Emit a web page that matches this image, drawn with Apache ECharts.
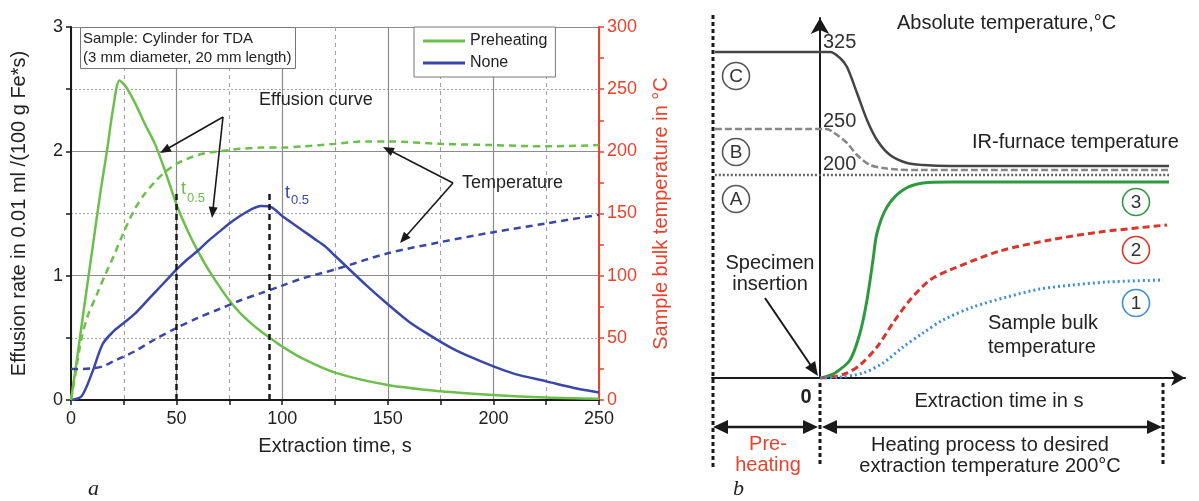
<!DOCTYPE html>
<html>
<head>
<meta charset="utf-8">
<title>Effusion rate and sample temperature</title>
<script src="https://cdn.jsdelivr.net/npm/echarts@6/dist/echarts.min.js"></script>
<style>
  html, body { margin: 0; padding: 0; background: #fff; }
  #chart { width: 1199px; height: 501px; }
</style>
</head>
<body>
<div id="chart"></div>
<script>
// ---- (a) measured curves, time in s ----
// effusion rate, 0.01 ml/(100 g Fe*s)
const preEffT = [0, 3, 6, 10, 14, 17, 20, 23, 26, 30, 35, 40, 45, 50, 55, 60, 65, 70, 75, 80, 85, 90, 95, 100, 110, 125, 150, 175, 200, 225, 250]
const preEff = [0, 0.35, 0.72, 1.2, 1.68, 2.0, 2.35, 2.57, 2.52, 2.4, 2.22, 2.05, 1.82, 1.57, 1.37, 1.2, 1.05, 0.92, 0.8, 0.7, 0.62, 0.55, 0.49, 0.43, 0.33, 0.22, 0.12, 0.07, 0.04, 0.02, 0.01]
const noneEffT = [0, 5, 10, 15, 20, 25, 30, 35, 40, 45, 50, 55, 60, 65, 70, 75, 80, 85, 90, 95, 100, 105, 110, 115, 120, 125, 130, 140, 150, 160, 170, 180, 190, 200, 210, 225, 240, 250]
const noneEff = [0, 0.03, 0.22, 0.45, 0.55, 0.62, 0.69, 0.78, 0.87, 0.96, 1.05, 1.13, 1.2, 1.28, 1.35, 1.42, 1.48, 1.53, 1.56, 1.55, 1.48, 1.42, 1.36, 1.3, 1.24, 1.16, 1.08, 0.92, 0.77, 0.63, 0.52, 0.42, 0.34, 0.27, 0.21, 0.15, 0.09, 0.06]
// sample bulk temperature, °C
const preTempT = [0, 2, 5, 8, 12, 16, 20, 25, 30, 35, 40, 45, 50, 55, 60, 65, 70, 75, 80, 90, 100, 110, 125, 140, 150, 175, 200, 225, 250]
const preTemp = [0, 20, 50, 68, 84, 100, 115, 135, 153, 166, 176, 184, 190, 194, 197, 199, 200, 201, 202, 203, 203, 204, 206, 208, 208, 206, 205, 204, 205]
const noneTempT = [0, 5, 10, 15, 20, 25, 30, 40, 50, 60, 70, 80, 90, 100, 110, 125, 150, 175, 200, 225, 250]
const noneTemp = [25, 25, 25.5, 27, 31, 35, 39, 49, 58, 66, 73, 80, 86, 92, 98, 105, 118, 127, 135, 142, 149]
const halfTimes = [50, 94]
const halfTop = 1.69

// ---- (b) schematic, time offset from insertion / temperature ----
const furnaceCX = [-105, 10, 20, 27, 37, 47, 57, 70, 87, 103, 130, 349]
const furnaceC = [326, 326, 320, 311, 285, 258, 238, 223, 215, 213, 212, 212]
const furnaceBX = [-105, 6, 13, 27, 37, 50, 63, 77, 100, 349]
const furnaceB = [249, 249, 246, 235, 223, 213, 210, 208.5, 208, 208]
const furnaceAX = [-105, 349]
const furnaceA = [203, 203]
const bulk3X = [0, 5, 15, 30, 40, 47, 53, 57, 67, 83, 103, 130, 349]
const bulk3 = [0, 1, 5, 18, 45, 78, 118, 145, 171, 188, 195, 196, 196]
const bulk2X = [0, 10, 27, 40, 57, 73, 90, 110, 130, 180, 230, 280, 347]
const bulk2 = [0, 0.5, 5, 13, 31, 55, 78, 98, 108, 127, 138, 146, 153]
const bulk1X = [0, 17, 43, 63, 83, 103, 123, 153, 187, 220, 253, 287, 343]
const bulk1 = [0, 0.5, 5, 15, 31, 45, 58, 71, 81, 89, 93, 96, 98]

const FONT = 'Arial, "Liberation Sans", Helvetica, sans-serif'
const SERIF = '"Liberation Serif", "Times New Roman", serif'
const INK = '#1a1a1a'
const GREEN = '#6dbf4b'
const BLUE = '#3a47a8'
const RED = '#e8432e'

const zip = (xs, ys) => xs.map((x, i) => [x, ys[i]])

// annotation helpers (graphic)
function label(text, x, y, size, opt) {
    const o = Object.assign({ align: 'left', color: '#222', weight: 'normal', style: 'normal', family: FONT }, opt || {})
    return {
        type: 'text', silent: true, z: 100,
        style: {
            text, x, y,
            font: o.style + ' ' + o.weight + ' ' + size + 'px ' + o.family,
            fill: o.color, textAlign: o.align, textVerticalAlign: 'middle'
        }
    }
}
function head(xa, ya, xb, yb, len, half, color) {
    const a = Math.atan2(yb - ya, xb - xa)
    const bx = xb - len * Math.cos(a)
    const by = yb - len * Math.sin(a)
    const nx = -Math.sin(a) * half
    const ny = Math.cos(a) * half
    return {
        type: 'polygon', silent: true, z: 100,
        shape: { points: [[xb, yb], [bx + nx, by + ny], [bx - nx, by - ny]] },
        style: { fill: color }
    }
}
function arrow(x1, y1, x2, y2, opt) {
    const o = Object.assign({ len: 11, half: 4.5, width: 1.6, color: INK, both: false }, opt || {})
    const a = Math.atan2(y2 - y1, x2 - x1)
    const ex = x2 - (o.len - 1) * Math.cos(a)
    const ey = y2 - (o.len - 1) * Math.sin(a)
    let sx = x1
    let sy = y1
    const out = []
    if (o.both) {
        sx = x1 + (o.len - 1) * Math.cos(a)
        sy = y1 + (o.len - 1) * Math.sin(a)
        out.push(head(x2, y2, x1, y1, o.len, o.half, o.color))
    }
    out.push({ type: 'line', silent: true, z: 100, shape: { x1: sx, y1: sy, x2: ex, y2: ey }, style: { stroke: o.color, lineWidth: o.width } })
    out.push(head(x1, y1, x2, y2, o.len, o.half, o.color))
    return out
}
function vdash(x, y1, y2) {
    return { type: 'line', silent: true, z: 100, shape: { x1: x, y1, x2: x, y2 }, style: { stroke: INK, lineWidth: 3, lineDash: [4, 3] } }
}
function badge(text, cx, cy, color, textColor) {
    return [
        { type: 'circle', silent: true, z: 100, shape: { cx, cy, r: 13.5 }, style: { fill: '#fff', stroke: color, lineWidth: 1.6 } },
        label(text, cx, cy + 1, 19, { align: 'center', color: textColor || '#333' })
    ]
}

const graphic = [
    // panel a
    label('Effusion curve', 259, 100, 18),
    ...arrow(223, 117, 160, 153),
    ...arrow(223, 117, 212, 218),
    label('Temperature', 462, 183, 18),
    ...arrow(453, 183, 383, 147),
    ...arrow(453, 183, 400, 243),
    label('t', 181, 189, 18, { color: GREEN }),
    label('0.5', 187, 198, 13, { color: GREEN }),
    label('t', 285, 193, 18, { color: BLUE }),
    label('0.5', 291, 200, 13, { color: BLUE }),
    label('a', 88, 489, 22, { style: 'italic', family: SERIF }),
    // panel b
    vdash(713, 15, 467),
    vdash(820, 383, 465),
    vdash(1163, 383, 465),
    label('Absolute temperature,°C', 897, 23, 20),
    label('325', 823, 42, 20, { color: '#333' }),
    label('250', 823, 121, 20, { color: '#333' }),
    label('200', 823, 164, 20, { color: '#333' }),
    label('IR-furnace temperature', 972, 142, 20),
    ...badge('C', 736, 76, '#555'),
    ...badge('B', 736, 152, '#555'),
    ...badge('A', 736, 199, '#555'),
    ...badge('3', 1136, 202, '#2e9a40'),
    ...badge('2', 1136, 250, '#d9362b'),
    ...badge('1', 1136, 303, '#3c8fd8'),
    label('Sample bulk', 988, 323, 20),
    label('temperature', 988, 347, 20),
    label('Specimen', 770, 263, 20, { align: 'center' }),
    label('insertion', 770, 284, 20, { align: 'center' }),
    ...arrow(765, 298, 818, 376, { len: 14, half: 6, width: 2 }),
    label('0', 806, 397, 20, { align: 'center', weight: 'bold' }),
    label('Extraction time in s', 999, 401, 20, { align: 'center' }),
    ...arrow(713, 427, 818, 427, { len: 15, half: 7, width: 2.5, both: true }),
    ...arrow(822, 427, 1162, 427, { len: 15, half: 7, width: 2.5, both: true }),
    label('Pre-', 768, 444, 20, { align: 'center', color: RED }),
    label('heating', 768, 465, 20, { align: 'center', color: RED }),
    label('Heating process to desired', 990, 445, 20, { align: 'center' }),
    label('extraction temperature 200°C', 990, 466, 20, { align: 'center' }),
    label('b', 733, 489, 22, { style: 'italic', family: SERIF })
]

function curve(name, data, color, type, yAxisIndex, extra) {
    return Object.assign({
        name, type: 'line', data, xAxisIndex: yAxisIndex > 1 ? 1 : 0, yAxisIndex,
        symbol: 'none', smooth: 0.3, silent: true,
        lineStyle: { color, width: 2.5, type },
        itemStyle: { color }
    }, extra || {})
}

const option = {
    animation: false,
    backgroundColor: '#fff',
    textStyle: { fontFamily: FONT },
    title: {
        text: 'Sample: Cylinder for TDA\n(3 mm diameter, 20 mm length)',
        left: 80, top: 27, padding: [2, 4, 2, 3],
        borderColor: '#777', borderWidth: 1, backgroundColor: '#fff',
        textStyle: { fontSize: 15, fontWeight: 'normal', color: '#222', lineHeight: 19, fontFamily: FONT }
    },
    legend: {
        data: ['Preheating', 'None'], left: 414, top: 27, orient: 'vertical',
        icon: 'rect', itemWidth: 42, itemHeight: 3, itemGap: 6, padding: [6, 8, 6, 9],
        borderColor: '#777', borderWidth: 1, backgroundColor: '#fff', selectedMode: false,
        textStyle: { fontSize: 16, color: '#222', fontFamily: FONT }
    },
    grid: [
        { left: 71, top: 27, width: 528, height: 373, outerBoundsMode: 'none' },
        { left: 712, top: 18, width: 473, height: 360, outerBoundsMode: 'none' }
    ],
    xAxis: [{
        gridIndex: 0, type: 'value', min: 0, max: 250, interval: 50,
        name: 'Extraction time, s', nameLocation: 'middle', nameGap: 36, nameMoveOverlap: false,
        nameTextStyle: { fontSize: 20, color: '#222', fontFamily: FONT },
        axisLine: { onZero: false, lineStyle: { color: INK, width: 2 } },
        axisTick: { show: true, length: 5, lineStyle: { color: INK, width: 1.5 } },
        minorTick: { show: true, splitNumber: 2, length: 5, lineStyle: { color: INK, width: 1.5 } },
        axisLabel: { color: '#222', fontSize: 18, margin: 10, showMinLabel: true, showMaxLabel: true, fontFamily: FONT },
        splitLine: { show: true, lineStyle: { color: '#8c8c8c', width: 1.2 } },
        minorSplitLine: { show: true, lineStyle: { color: '#a0a0a0', width: 1, type: [4, 4] } }
    }, {
        gridIndex: 1, type: 'value', min: -108, max: 365,
        axisLine: { show: true, onZero: false, symbol: ['none', 'arrow'], symbolSize: [12, 14], lineStyle: { color: INK, width: 2 } },
        axisTick: { show: false }, axisLabel: { show: false }, splitLine: { show: false }
    }],
    yAxis: [{
        gridIndex: 0, type: 'value', min: 0, max: 3, interval: 1, position: 'left',
        name: 'Effusion rate in 0.01 ml /(100 g Fe*s)', nameLocation: 'middle', nameGap: 42, nameMoveOverlap: false,
        nameTextStyle: { fontSize: 20, color: '#222', fontFamily: FONT },
        axisLine: { show: true, onZero: false, lineStyle: { color: INK, width: 2 } },
        axisTick: { show: true, length: 5, lineStyle: { color: INK, width: 1.5 } },
        minorTick: { show: true, splitNumber: 2, length: 5, lineStyle: { color: INK, width: 1.5 } },
        axisLabel: { color: '#222', fontSize: 18, margin: 8, showMinLabel: true, showMaxLabel: true, fontFamily: FONT },
        splitLine: { show: true, lineStyle: { color: '#8c8c8c', width: 1.2 } },
        minorSplitLine: { show: true, lineStyle: { color: '#a0a0a0', width: 1, type: [2, 2] } }
    }, {
        gridIndex: 0, type: 'value', min: 0, max: 300, interval: 50, position: 'right',
        name: 'Sample bulk temperature in °C', nameLocation: 'middle', nameGap: 52, nameMoveOverlap: false,
        nameTextStyle: { fontSize: 20, color: RED, fontFamily: FONT },
        axisLine: { show: true, onZero: false, lineStyle: { color: RED, width: 2 } },
        axisTick: { show: true, length: 5, lineStyle: { color: RED, width: 1.5 } },
        minorTick: { show: true, splitNumber: 2, length: 5, lineStyle: { color: RED, width: 1.5 } },
        axisLabel: { color: RED, fontSize: 18, margin: 8, showMinLabel: true, showMaxLabel: true, fontFamily: FONT },
        splitLine: { show: false }
    }, {
        gridIndex: 1, type: 'value', min: 0, max: 360,
        axisLine: { show: true, onZero: true, symbol: ['none', 'arrow'], symbolSize: [14, 16], lineStyle: { color: INK, width: 2 } },
        axisTick: { show: false }, axisLabel: { show: false }, splitLine: { show: false }
    }],
    series: [
        curve('Preheating', zip(preEffT, preEff), GREEN, 'solid', 0, {
            markLine: {
                silent: true, symbol: 'none', label: { show: false },
                lineStyle: { color: INK, width: 2.5, type: [6, 4] },
                data: halfTimes.map(t => [{ coord: [t, 0] }, { coord: [t, halfTop] }])
            }
        }),
        curve('None', zip(noneEffT, noneEff), BLUE, 'solid', 0),
        curve('Preheating temperature', zip(preTempT, preTemp), GREEN, [7, 5], 1),
        curve('None temperature', zip(noneTempT, noneTemp), BLUE, [7, 5], 1),
        curve('C', zip(furnaceCX, furnaceC), '#444', 'solid', 2),
        curve('B', zip(furnaceBX, furnaceB), '#888', [7, 3], 2),
        curve('A', zip(furnaceAX, furnaceA), '#666', [2, 2], 2),
        curve('3', zip(bulk3X, bulk3), '#2e9a40', 'solid', 2, { lineStyle: { color: '#2e9a40', width: 3 } }),
        curve('2', zip(bulk2X, bulk2), '#d9362b', [7, 4], 2, { lineStyle: { color: '#d9362b', width: 3, type: [7, 4] } }),
        curve('1', zip(bulk1X, bulk1), '#3c8fd8', [2, 3], 2, { lineStyle: { color: '#3c8fd8', width: 3, type: [2, 3] } })
    ],
    graphic
}

const chart = echarts.init(document.getElementById('chart'))
chart.setOption(option)
</script>
</body>
</html>
